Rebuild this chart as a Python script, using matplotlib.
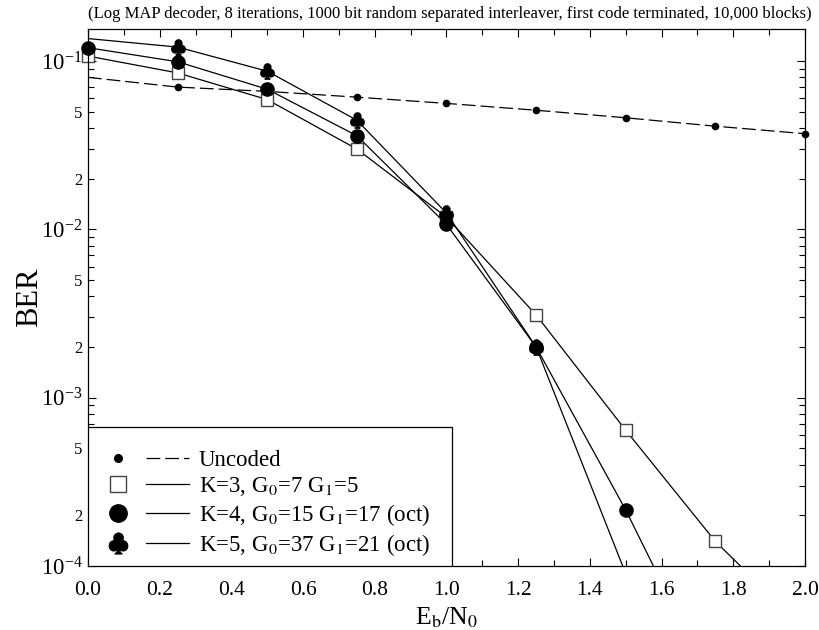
import numpy as np
import matplotlib
matplotlib.use("Agg")
import matplotlib.pyplot as plt
from matplotlib.lines import Line2D
from matplotlib.patches import Rectangle
from matplotlib.legend_handler import HandlerTuple
from matplotlib.ticker import LogLocator, FuncFormatter, MultipleLocator

plt.rcParams["font.family"] = ["Liberation Serif", "DejaVu Serif"]
plt.rcParams["mathtext.fontset"] = "stix"

# Eb/N0 (dB)
ebno = [0.0, 0.25, 0.5, 0.75, 1.0, 1.25, 1.5, 1.75, 2.0]
ber_uncoded = [0.080, 0.070, 0.066, 0.061, 0.056, 0.051, 0.046, 0.041, 0.037]

ebno_k3 = [0.0, 0.25, 0.5, 0.75, 1.0, 1.25, 1.5, 1.75, 2.0]
ber_k3 = [0.107, 0.085, 0.059, 0.030, 0.0118, 0.0031, 6.4e-4, 1.4e-4, 4.2e-5]

ebno_k4 = [0.0, 0.25, 0.5, 0.75, 1.0, 1.25, 1.5, 1.75]
ber_k4 = [0.120, 0.099, 0.068, 0.036, 0.0107, 0.0020, 2.15e-4, 1.8e-5]

ebno_k5 = [0.0, 0.25, 0.5, 0.75, 1.0, 1.25, 1.5]
ber_k5 = [0.136, 0.121, 0.087, 0.0445, 0.0125, 0.0020, 9.0e-5]

labels = [
    "Uncoded",
    r"K=3, G$_0$=7 G$_1$=5",
    r"K=4, G$_0$=15 G$_1$=17 (oct)",
    r"K=5, G$_0$=37 G$_1$=21 (oct)",
]

YMIN, YMAX = 1e-4, 0.155

fig = plt.figure(figsize=(8.19, 6.3), dpi=100)
ax = fig.add_axes([0.1074, 0.1016, 0.8755, 0.8524])

club = "$\u2663$"
dash = (0, (11, 4))


def curve(x, y, ls="-", first=0, **mk):
    # line is clipped to the frame, markers are not (so edge points show whole)
    x = np.asarray(x)
    y = np.asarray(y)
    ax.plot(x, y, color="black", lw=0.9, ls=ls)
    keep = (y >= YMIN) & (np.arange(len(x)) >= first)
    ax.plot(x[keep], y[keep], ls="none", clip_on=False, **mk)


curve(ebno, ber_uncoded, ls=dash, first=1,
      marker="o", ms=4.5, mfc="black", mec="black")
curve(ebno_k3, ber_k3, marker="s", ms=9, mfc="white", mec="#444444", mew=1.0)
curve(ebno_k4, ber_k4, marker="o", ms=9.5, mfc="black", mec="black")
curve(ebno_k5, ber_k5, first=1, marker=club, ms=11, mfc="black", mec="black")

ax.set_yscale("log")
ax.set_xlim(0.0, 2.0)
ax.set_ylim(YMIN, YMAX)

ax.xaxis.set_major_locator(MultipleLocator(0.2))
ax.xaxis.set_minor_locator(MultipleLocator(0.1))
ax.xaxis.set_major_formatter(FuncFormatter(lambda v, p: f"{v:.1f}"))

ax.yaxis.set_major_locator(LogLocator(base=10, numticks=10))
ax.yaxis.set_minor_locator(LogLocator(base=10, subs=np.arange(2, 10), numticks=20))


def minor_label(v, pos):
    m = v / 10 ** np.floor(np.log10(v) + 1e-9)
    m = int(round(m))
    return str(m) if m in (2, 5) else ""


ax.yaxis.set_minor_formatter(FuncFormatter(minor_label))

ax.tick_params(which="both", direction="in", top=True, right=True, colors="black")
ax.tick_params(which="major", length=6, width=0.8)
ax.tick_params(which="minor", length=4, width=0.8)
ax.tick_params(axis="x", which="major", labelsize=15.5, pad=11)
ax.tick_params(axis="y", which="major", labelsize=16.5, pad=4)
ax.tick_params(axis="y", which="minor", labelsize=12, pad=4)

for sp in ax.spines.values():
    sp.set_linewidth(0.9)

ax.set_xlabel(r"E$_\mathrm{b}$/N$_0$", fontsize=18.5)
ax.xaxis.set_label_coords(0.5, -0.073)
ax.set_ylabel("BER", fontsize=22)
ax.yaxis.set_label_coords(-0.061, 0.5)

fig.text(0.549, 0.977, "(Log MAP decoder, 8 iterations, 1000 bit random separated interleaver, "
         "first code terminated, 10,000 blocks)", ha="center", va="center", fontsize=12)

# legend: marker then line segment, inside a plain box sitting on the x axis
handles = [
    (Line2D([], [], ls="none", marker="o", ms=5.5, mfc="black", mec="black"),
     Line2D([], [], color="black", lw=0.9, ls=dash)),
    (Line2D([], [], ls="none", marker="s", ms=12, mfc="white", mec="#444444", mew=1.0),
     Line2D([], [], color="black", lw=0.9)),
    (Line2D([], [], ls="none", marker="o", ms=12.5, mfc="black", mec="black"),
     Line2D([], [], color="black", lw=0.9)),
    (Line2D([], [], ls="none", marker=club, ms=15, mfc="black", mec="black"),
     Line2D([], [], color="black", lw=0.9)),
]
box = Rectangle((0.0, 0.0), 364 / 717, 139 / 537, transform=ax.transAxes,
                facecolor="white", edgecolor="black", lw=0.9, zorder=4)
ax.add_patch(box)
leg = ax.legend(handles, labels, handler_map={tuple: HandlerTuple(ndivide=None, pad=0.32)},
                loc="upper left", bbox_to_anchor=(8.5 / 717, 116 / 537),
                borderaxespad=0, borderpad=0, fontsize=16.5, frameon=False,
                handlelength=4.03, handletextpad=0.43, labelspacing=0.17)
leg.set_zorder(5)

fig.savefig("out.png", dpi=100)
